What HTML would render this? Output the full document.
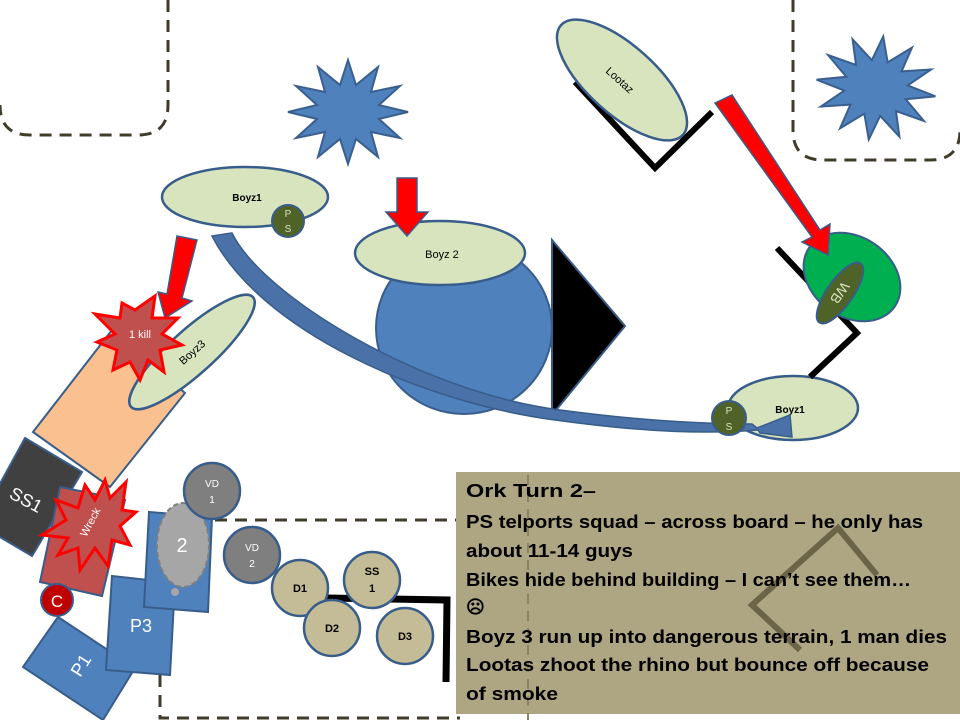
<!DOCTYPE html>
<html><head><meta charset="utf-8"><style>
html,body{margin:0;padding:0;background:#fff;width:960px;height:720px;overflow:hidden}
svg{display:block;font-family:"Liberation Sans",sans-serif}
</style></head><body>
<svg width="960" height="720" viewBox="0 0 960 720" xmlns="http://www.w3.org/2000/svg">
<!-- dashed zones -->
<path d="M168,0 V105 Q168,135 138,135 H30 Q0,135 0,105" fill="none" stroke="#403c2c" stroke-width="3" stroke-dasharray="12,8"/>
<path d="M793,0 V130 Q793,160 823,160 H930 Q960,160 960,130" fill="none" stroke="#403c2c" stroke-width="3" stroke-dasharray="12,8"/>
<path d="M215,520 H460 M160,675 V718 H460" fill="none" stroke="#403c2c" stroke-width="3" stroke-dasharray="12,8"/>

<!-- stars -->
<polygon id="st" fill="#4f81bd" stroke="#3a5f8f" stroke-width="2" points="348,60 356,85 378,67 371,92 400,86 379,105 408,112 379,119 400,138 371,132 378,157 356,139 348,164 340,139 318,157 325,132 296,138 317,119 288,112 317,105 296,86 325,92 318,67 340,85"/>
<polygon fill="#4f81bd" stroke="#3a5f8f" stroke-width="2" transform="translate(876,88) rotate(8) translate(-348,-112)" points="348,60 356,85 378,67 371,92 400,86 379,105 408,112 379,119 400,138 371,132 378,157 356,139 348,164 340,139 318,157 325,132 296,138 317,119 288,112 317,105 296,86 325,92 318,67 340,85"/>

<!-- Boyz1 top -->
<ellipse cx="245" cy="197" rx="83" ry="30" fill="#d7e4bd" stroke="#385d8a" stroke-width="2.5"/>
<text x="247" y="201" font-size="10" font-weight="bold" text-anchor="middle">Boyz1</text>
<circle cx="288" cy="221" r="16" fill="#4f6228" stroke="#385d8a" stroke-width="2"/>
<text x="288" y="217" font-size="10" fill="#d7e4bd" text-anchor="middle">P</text>
<text x="288" y="232" font-size="10" fill="#d7e4bd" text-anchor="middle">S</text>

<!-- big blue circle & Boyz2 -->
<ellipse cx="464" cy="328" rx="88" ry="86" fill="#4f81bd" stroke="#385d8a" stroke-width="2"/>
<ellipse cx="440" cy="253" rx="85" ry="32" fill="#d7e4bd" stroke="#385d8a" stroke-width="2.5"/>
<text x="442" y="258" font-size="11" text-anchor="middle">Boyz 2</text>
<polygon points="552,240 625,326 552,415" fill="#000" stroke="#385d8a" stroke-width="2"/>

<!-- Boyz1 right -->
<ellipse cx="793" cy="408" rx="65" ry="32" fill="#d7e4bd" stroke="#385d8a" stroke-width="2.5"/>
<text x="790" y="413" font-size="10" font-weight="bold" text-anchor="middle">Boyz1</text>

<!-- curved blue arrow -->
<path d="M212,236 L232,233 C262,295 420,392 560,410 C650,422 710,424 752,424 L757,428 L790,415 L792,437 L760,433 L758,430 C710,434 650,433 555,420 C420,402 260,330 212,236 Z" fill="#4a72a8" stroke="#385d8a" stroke-width="1.5"/>
<circle cx="729" cy="418" r="17" fill="#4f6228" stroke="#385d8a" stroke-width="2"/>
<text x="729" y="414" font-size="10" fill="#d7e4bd" text-anchor="middle">P</text>
<text x="729" y="430" font-size="10" fill="#d7e4bd" text-anchor="middle">S</text>

<!-- red arrows -->
<polygon points="177,236 197,240 182,298 192,301 165,318 158,292 167,294" fill="#ff0000" stroke="#385d8a" stroke-width="1.5"/>
<polygon points="397,178 417,178 417,212 428,212 407,236 386,212 397,212" fill="#ff0000" stroke="#385d8a" stroke-width="1.5"/>

<!-- Lootaz -->
<polyline points="575,82 655,168 712,112" fill="none" stroke="#000" stroke-width="6"/>
<ellipse cx="622" cy="80" rx="82" ry="34" transform="rotate(42 622 80)" fill="#d7e4bd" stroke="#385d8a" stroke-width="2.5"/>
<text x="620" y="84" font-size="11" text-anchor="middle" transform="rotate(42 620 80)">Lootaz</text>

<!-- WB -->
<polyline points="777,248 857,333 810,377" fill="none" stroke="#000" stroke-width="6"/>
<ellipse cx="852" cy="277" rx="52" ry="40" transform="rotate(35 852 277)" fill="#00b050" stroke="#385d8a" stroke-width="2"/>
<polygon points="715,103 732,95 820,230 830,224 828,255 802,242 812,237" fill="#ff0000" stroke="#385d8a" stroke-width="1.5"/>
<ellipse cx="840" cy="293" rx="36" ry="13" transform="rotate(-55 840 293)" fill="#4f6228" stroke="#385d8a" stroke-width="2"/>
<text x="840" y="298" font-size="14" fill="#d7e4bd" text-anchor="middle" transform="rotate(125 840 293)">WB</text>

<!-- orange terrain -->
<polygon points="33,432 112,330 185,393 110,487" fill="#fac090" stroke="#385d8a" stroke-width="2"/>
<ellipse cx="192" cy="352" rx="82" ry="22" transform="rotate(-42 192 352)" fill="#d7e4bd" stroke="#385d8a" stroke-width="2.5"/>
<text x="192" y="356" font-size="11" text-anchor="middle" transform="rotate(-42 192 352)">Boyz3</text>
<polygon fill="#c0504d" stroke="#ff0000" stroke-width="3" points="155,296 152,318 178,318 162,334 182,345 160,350 164,372 148,360 140,380 130,362 113,370 117,350 97,342 115,334 95,314 120,318 122,303 135,310"/>
<text x="140" y="338" font-size="11" fill="#fff" text-anchor="middle">1 kill</text>

<!-- SS1, wreck -->
<polygon points="25,438 82,472 32,556 -22,524" fill="#404040" stroke="#385d8a" stroke-width="2"/>
<text x="26" y="506" font-size="18" fill="#fff" text-anchor="middle" transform="rotate(28 26 500)">SS1</text>
<polygon points="60,487 125,500 102,596 40,582" fill="#c0504d" stroke="#385d8a" stroke-width="2"/>
<polygon fill="#c0504d" stroke="#ff0000" stroke-width="3" points="105,480 110,498 126,482 122,510 136,512 120,526 130,545 112,540 108,566 95,548 80,570 78,548 58,555 68,538 42,535 66,520 56,500 78,508 85,485 95,500"/>
<text x="90" y="526" font-size="11" fill="#fff" text-anchor="middle" transform="rotate(-62 90 522)">Wreck</text>
<circle cx="57" cy="600" r="16" fill="#c00000" stroke="#385d8a" stroke-width="2"/>
<text x="57" y="607" font-size="17" fill="#fff" text-anchor="middle">C</text>

<!-- P1 P3 2 -->
<polygon points="58,617 135,668 103,720 23,667" fill="#4f81bd" stroke="#385d8a" stroke-width="2"/>
<text x="82" y="673" font-size="18" fill="#fff" text-anchor="middle" transform="rotate(-58 80 667)">P1</text>
<polygon points="112,576 175,583 170,675 106,670" fill="#4f81bd" stroke="#385d8a" stroke-width="2"/>
<text x="141" y="632" font-size="18" fill="#fff" text-anchor="middle">P3</text>
<polygon points="149,512 212,517 208,612 144,607" fill="#4f81bd" stroke="#385d8a" stroke-width="2"/>
<ellipse cx="183" cy="545" rx="26" ry="42" fill="#a6a6a6" stroke="#7f7f7f" stroke-width="2" stroke-dasharray="5,3"/>
<circle cx="175" cy="592" r="4" fill="#a6a6a6"/>
<text x="182" y="552" font-size="20" fill="#fff" text-anchor="middle">2</text>

<!-- VD & D circles -->
<g stroke="#385d8a" stroke-width="2.5">
<circle cx="212" cy="491" r="28" fill="#7f7f7f"/>
<circle cx="252" cy="555" r="28" fill="#7f7f7f"/>
</g>
<polyline points="325,598 447,600 446,682" fill="none" stroke="#000" stroke-width="7"/>
<g stroke="#385d8a" stroke-width="2.5" fill="#c4bc96">
<circle cx="300" cy="588" r="28"/>
<circle cx="372" cy="580" r="28"/>
<circle cx="332" cy="628" r="28"/>
<circle cx="405" cy="636" r="28"/>
</g>
<g font-size="10" text-anchor="middle" fill="#fff">
<text x="212" y="487">VD</text><text x="212" y="503">1</text>
<text x="252" y="551">VD</text><text x="252" y="567">2</text>
</g>
<g font-size="11" font-weight="bold" text-anchor="middle">
<text x="300" y="592">D1</text>
<text x="372" y="575">SS</text><text x="372" y="592">1</text>
<text x="332" y="632">D2</text>
<text x="405" y="640">D3</text>
</g>

<!-- text box -->
<rect x="456" y="472" width="504" height="242" fill="#aea683"/>
<line x1="528" y1="475" x2="528" y2="720" stroke="#8a8262" stroke-width="2" stroke-dasharray="10,7"/>
<polyline points="800,650 752,605 838,528 877,575" fill="none" stroke="#6b6447" stroke-width="6"/>
<g font-size="18" font-weight="bold" fill="#000">
<text x="466" y="497" textLength="130" lengthAdjust="spacingAndGlyphs">Ork Turn 2–</text>
<text x="466" y="528" textLength="457" lengthAdjust="spacingAndGlyphs">PS telports squad – across board – he only has</text>
<text x="466" y="557" textLength="167" lengthAdjust="spacingAndGlyphs">about 11-14 guys</text>
<text x="466" y="586" textLength="445" lengthAdjust="spacingAndGlyphs">Bikes hide behind building – I can’t see them…</text>
<text x="466" y="613">☹</text>
<text x="466" y="643" textLength="481" lengthAdjust="spacingAndGlyphs">Boyz 3 run up into dangerous terrain, 1 man dies</text>
<text x="466" y="671" textLength="463" lengthAdjust="spacingAndGlyphs">Lootas zhoot the rhino but bounce off because</text>
<text x="466" y="700" textLength="92" lengthAdjust="spacingAndGlyphs">of smoke</text>
</g>
</svg>
</body></html>
